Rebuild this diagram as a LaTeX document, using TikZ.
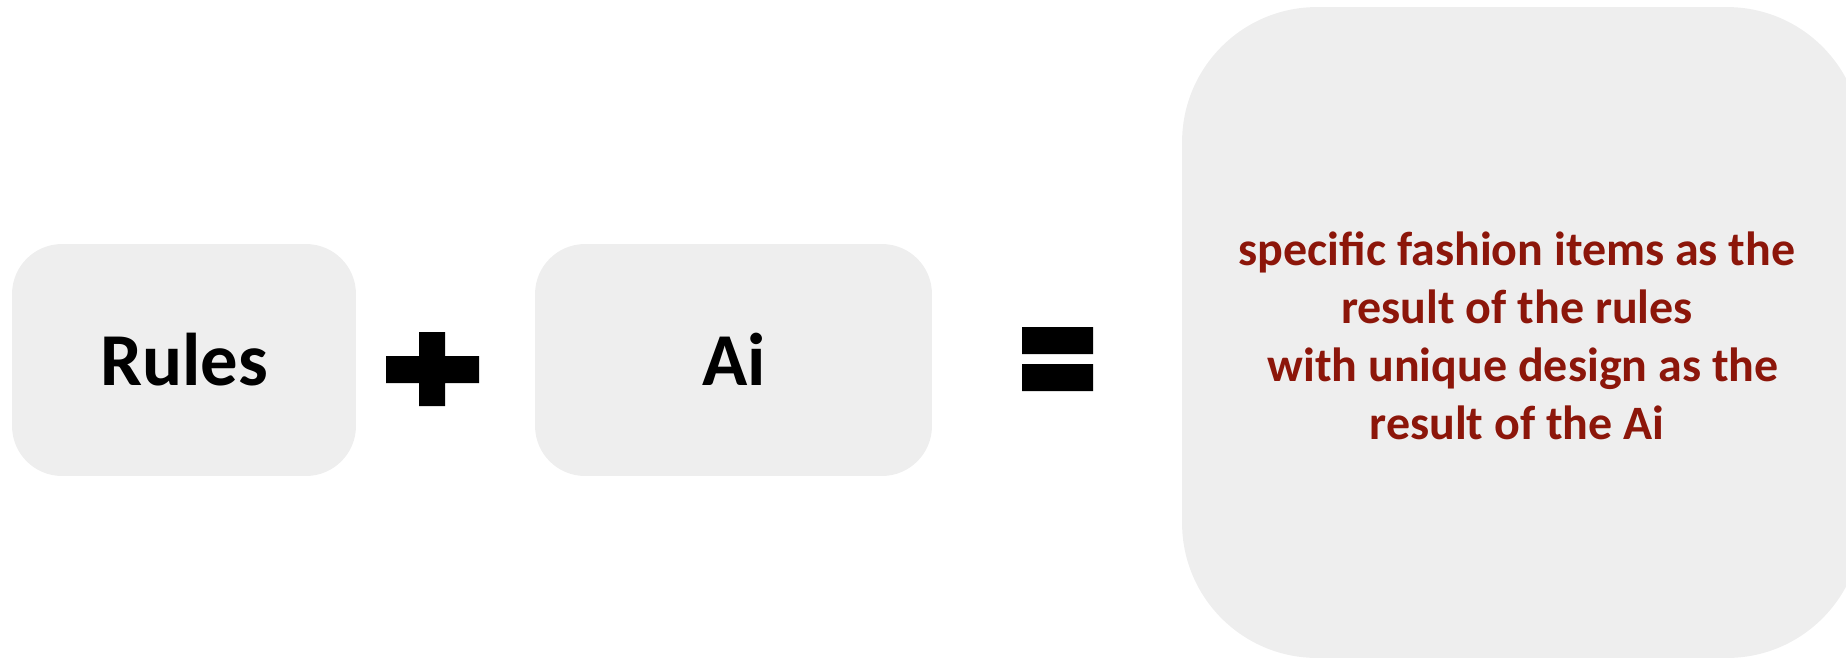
\documentclass[tikz,border=0pt]{standalone}
\usepackage{fontspec}
\setmainfont{Carlito}
\definecolor{boxgray}{RGB}{238,238,238}
\definecolor{darkred}{RGB}{140,22,10}
\begin{document}
\begin{tikzpicture}[x=0.02cm,y=-0.02cm]
        \tikzstyle{every node}=[font=\bfseries]
        \tikzstyle{termbox}=[fill=boxgray,rounded corners=1cm,minimum height=4.64cm,inner sep=0pt]
        \tikzstyle{termtext}=[anchor=base,font=\bfseries\fontsize{42.5}{50}\selectfont]
        \useasboundingbox (0,0) rectangle (1846,657);
        \node[termbox,minimum width=6.88cm] (rulesbox) at (184,360) {};
        \node[termbox,minimum width=7.94cm] (aibox) at (733.5,360) {};
        \node[termbox,minimum width=13.6cm,minimum height=13.02cm,rounded corners=2.7cm] (resultbox) at (1522,332.5) {};
        \node[termtext] (rules) at (184,385) {Rules};
        \node[termtext] (ai) at (734,385) {Ai};
        \fill (386,356) rectangle (479,383) (419,332) rectangle (445,406);
        \fill (1022,327) rectangle (1093,354) (1022,364) rectangle (1093,391);
        \node[align=center,text=darkred,font=\bfseries\fontsize{27.3}{33}\selectfont] (result) at (1517,336)
            {specific fashion items as the\\result of the rules\hspace*{0.25em}\\\hspace*{0.25em}with unique design as the\\result of the Ai};
    \end{tikzpicture}
\end{document}
